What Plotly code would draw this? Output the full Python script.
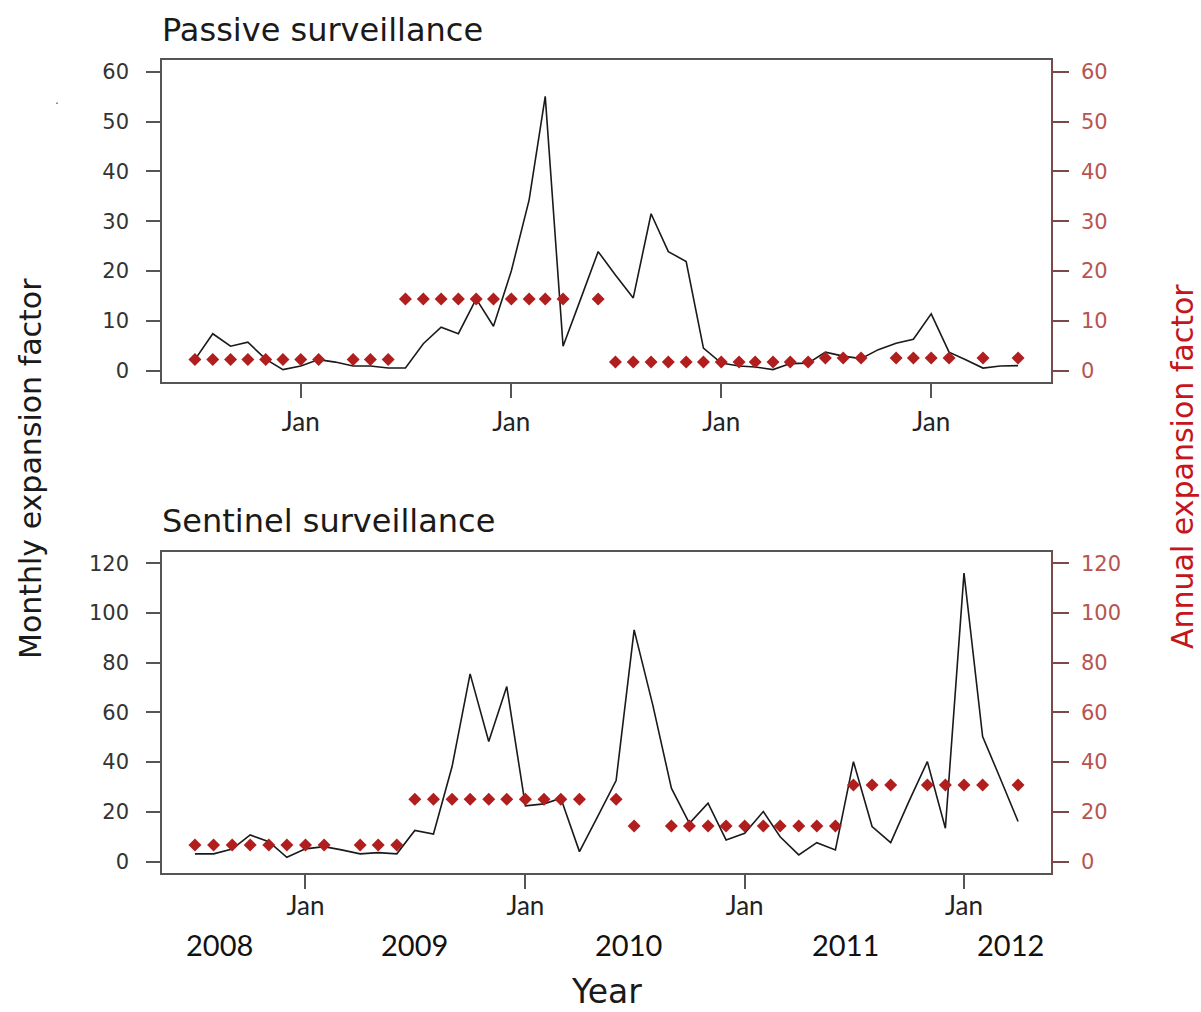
import pandas as pd
import plotly.graph_objects as go

# ---------------- data ----------------
passive_months = pd.date_range("2007-07-01", periods=48, freq="MS")
passive_monthly = [2.2, 7.4, 4.9, 5.7, 2.3, 0.2, 0.9, 2.2, 1.7, 0.9, 0.9, 0.5,
                   0.5, 5.4, 8.7, 7.4, 14.4, 8.9, 20.0, 34.3, 55.1, 4.9, 14.2, 23.9,
                   19.2, 14.6, 31.5, 23.9, 21.9, 4.5, 1.5, 0.9, 0.7, 0.2, 1.4, 1.5,
                   3.7, 2.9, 2.4, 4.2, 5.5, 6.3, 11.4, 3.7, 2.2, 0.5, 0.9, 1.0]
passive_annual = [2.2, 2.2, 2.2, 2.2, 2.2, 2.2, 2.2, 2.2, None, 2.2, 2.2, 2.2,
                  14.4, 14.4, 14.4, 14.4, 14.4, 14.4, 14.4, 14.4, 14.4, 14.4, None, 14.4,
                  1.7, 1.7, 1.7, 1.7, 1.7, 1.7, 1.7, 1.7, 1.7, 1.7, 1.7, 1.7,
                  2.5, 2.5, 2.5, None, 2.5, 2.5, 2.5, 2.5, None, 2.5, None, 2.5]

sentinel_months = pd.date_range("2007-07-01", periods=46, freq="MS")
sentinel_monthly = [3.1, 3.1, 5.0, 10.7, 8.0, 1.7, 5.1, 6.0, 4.7, 3.1, 3.6, 3.1,
                    12.5, 11.1, 38.2, 75.5, 48.3, 70.4, 22.4, 23.2, 25.5, 4.0, 18.0, 32.6,
                    93.2, 63.0, 29.5, 15.4, 23.5, 8.7, 11.4, 20.1, 10.0, 2.7, 7.6, 4.7,
                    40.2, 14.1, 7.6, 24.0, 40.2, 13.4, 116.0, 50.3, 34.2, 16.1]
sentinel_annual = [6.7, 6.7, 6.7, 6.7, 6.7, 6.7, 6.7, 6.7, None, 6.7, 6.7, 6.7,
                   25.1, 25.1, 25.1, 25.1, 25.1, 25.1, 25.1, 25.1, 25.1, 25.1, None, 25.1,
                   14.3, None, 14.3, 14.3, 14.3, 14.3, 14.3, 14.3, 14.3, 14.3, 14.3, 14.3,
                   30.8, 30.8, 30.8, None, 30.8, 30.8, 30.8, 30.8, None, 30.8]

jan_ticks = ["2008-01-01", "2009-01-01", "2010-01-01", "2011-01-01"]
jan_labels = ["Jan", "Jan", "Jan", "Jan"]
passive_yticks = [0, 10, 20, 30, 40, 50, 60]
sentinel_yticks = [0, 20, 40, 60, 80, 100, 120]
year_labels = ["2008", "2009", "2010", "2011", "2012"]

# ---------------- styling ----------------
W, H = 1201, 1012
RFONT = "DejaVu Sans"
CFONT = "Lato"
LINE_C = "#555555"
RAX_C = "#7a4a4a"
RLAB_C = "#b85450"
DIAM_C = "#b01e1e"


def pad_range(dates):
    span = dates[-1] - dates[0]
    p = span * 0.04
    return [dates[0] - p, dates[-1] + p]


def px_x(v):
    return v / W


def px_y(v):
    return 1 - v / H


fig = go.Figure()

fig.add_trace(go.Scatter(x=passive_months, y=passive_monthly, mode="lines",
                         line=dict(color="#1a1a1a", width=1.6),
                         xaxis="x", yaxis="y", showlegend=False))
fig.add_trace(go.Scatter(x=passive_months, y=passive_annual, mode="markers",
                         marker=dict(symbol="diamond", size=10, color=DIAM_C),
                         xaxis="x", yaxis="y2", showlegend=False))
fig.add_trace(go.Scatter(x=sentinel_months, y=sentinel_monthly, mode="lines",
                         line=dict(color="#1a1a1a", width=1.6),
                         xaxis="x2", yaxis="y3", showlegend=False))
fig.add_trace(go.Scatter(x=sentinel_months, y=sentinel_annual, mode="markers",
                         marker=dict(symbol="diamond", size=10, color=DIAM_C),
                         xaxis="x2", yaxis="y4", showlegend=False))

xdom = [px_x(162), px_x(1051)]
top_dom = [px_y(382), px_y(60)]
bot_dom = [px_y(873), px_y(552)]

xcommon = dict(type="date", tickvals=jan_ticks, ticktext=jan_labels,
               ticks="outside", ticklen=14, tickwidth=1.5, tickcolor=LINE_C,
               showline=True, linecolor=LINE_C, linewidth=1.5, mirror=True,
               showgrid=False, zeroline=False,
               tickfont=dict(family=CFONT, size=26, color="#222222"))
ycommon = dict(ticks="outside", ticklen=14, tickwidth=1.5, tickcolor=LINE_C,
               showline=True, linecolor=LINE_C, linewidth=1.5,
               showgrid=False, zeroline=False, ticklabelstandoff=13,
               tickfont=dict(family=RFONT, size=21, color="#333333"))
ycommon_r = dict(ticks="outside", ticklen=16, tickwidth=1.5, tickcolor=RAX_C,
                 showline=True, linecolor=RAX_C, linewidth=1.5,
                 showgrid=False, zeroline=False, ticklabelstandoff=8,
                 tickfont=dict(family=RFONT, size=21, color=RLAB_C))

fig.update_layout(
    width=W, height=H,
    margin=dict(l=0, r=0, t=0, b=0),
    paper_bgcolor="white", plot_bgcolor="white",
    showlegend=False,
    xaxis=dict(domain=xdom, anchor="y", range=pad_range(passive_months),
               ticklabelstandoff=2, **xcommon),
    yaxis=dict(domain=top_dom, anchor="x", range=[-2.3, 62.4],
               tickvals=passive_yticks, **ycommon),
    yaxis2=dict(overlaying="y", side="right", anchor="x", range=[-2.3, 62.4],
                tickvals=passive_yticks, **ycommon_r),
    xaxis2=dict(domain=xdom, anchor="y3", range=pad_range(sentinel_months),
                ticklabelstandoff=-5, **xcommon),
    yaxis3=dict(domain=bot_dom, anchor="x2", range=[-4.6, 124.5],
                tickvals=sentinel_yticks, **ycommon),
    yaxis4=dict(overlaying="y3", side="right", anchor="x2", range=[-4.6, 124.5],
                tickvals=sentinel_yticks, **ycommon_r),
)

ann = []
ann.append(dict(text="Passive surveillance", x=px_x(160), y=px_y(30),
                xref="paper", yref="paper", xanchor="left", yanchor="middle",
                showarrow=False, font=dict(family=RFONT, size=32, color="#1a1a1a")))
ann.append(dict(text="Sentinel surveillance", x=px_x(160), y=px_y(521),
                xref="paper", yref="paper", xanchor="left", yanchor="middle",
                showarrow=False, font=dict(family=RFONT, size=32, color="#1a1a1a")))
ann.append(dict(text="Monthly expansion factor", x=px_x(30), y=px_y(469),
                xref="paper", yref="paper", xanchor="center", yanchor="middle",
                textangle=-90, showarrow=False,
                font=dict(family=RFONT, size=30, color="#1a1a1a")))
ann.append(dict(text="Annual expansion factor", x=px_x(1182), y=px_y(467),
                xref="paper", yref="paper", xanchor="center", yanchor="middle",
                textangle=-90, showarrow=False,
                font=dict(family=RFONT, size=30, color="#c4161c")))
ann.append(dict(text="Year", x=px_x(606), y=px_y(991),
                xref="paper", yref="paper", xanchor="center", yanchor="middle",
                showarrow=False, font=dict(family=RFONT, size=33, color="#1a1a1a")))
year_x = [219, 414, 628, 845, 1010]
for lab, xp in zip(year_labels, year_x):
    ann.append(dict(text=lab, x=px_x(xp), y=px_y(944),
                    xref="paper", yref="paper", xanchor="center", yanchor="middle",
                    showarrow=False, font=dict(family=CFONT, size=29, color="#111111")))
ann.append(dict(text=".", x=px_x(57), y=px_y(100),
                xref="paper", yref="paper", xanchor="center", yanchor="middle",
                showarrow=False, font=dict(family=RFONT, size=12, color="#555555")))
fig.update_layout(annotations=ann)

fig.write_html("out.html")
